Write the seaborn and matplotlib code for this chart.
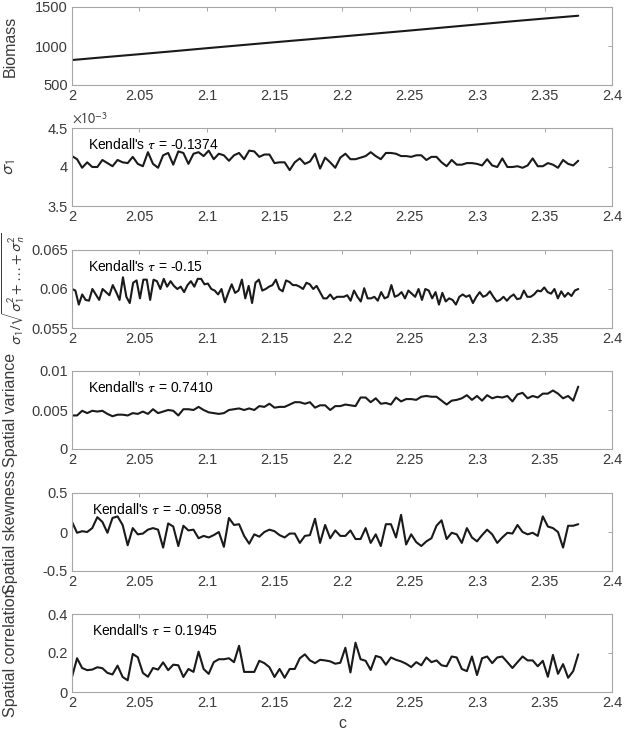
import numpy as np
import pandas as pd
import matplotlib
matplotlib.use('Agg')
import matplotlib.pyplot as plt
from matplotlib.ticker import FuncFormatter
import seaborn as sns

# Data (x runs from c = 2 to 2.375)
biomass = [820, 858, 895, 933, 972, 1010, 1048, 1085, 1122, 1160, 1198, 1237,
           1276, 1315, 1352, 1388]

# sigma_1 in units of 1e-3
sigma1_e3 = [4.14, 4.10, 3.99, 4.06, 4.00, 4.00, 4.09, 4.05, 4.01, 4.09,
             4.06, 4.05, 4.13, 4.04, 4.01, 4.19, 4.04, 3.99, 4.15, 4.18,
             4.03, 4.20, 4.18, 4.04, 4.17, 4.19, 4.14, 4.21, 4.10, 4.17,
             4.15, 4.08, 4.15, 4.18, 4.10, 4.21, 4.20, 4.13, 4.16, 4.16,
             4.05, 4.06, 4.06, 3.96, 4.06, 4.11, 4.04, 4.07, 4.17, 3.98,
             4.12, 4.06, 3.99, 4.12, 4.17, 4.10, 4.10, 4.12, 4.14, 4.19,
             4.14, 4.10, 4.18, 4.18, 4.17, 4.14, 4.14, 4.13, 4.15, 4.15,
             4.09, 4.13, 4.13, 4.06, 4.01, 4.09, 4.03, 4.03, 4.05, 4.05,
             4.04, 4.02, 4.10, 4.02, 4.00, 4.11, 4.00, 4.00, 4.01, 3.99,
             4.02, 4.11, 4.01, 4.01, 4.05, 4.03, 3.99, 4.09, 4.04, 4.02, 4.08]

sigma_ratio = [0.0600, 0.0598, 0.0580, 0.0593, 0.0586, 0.0585, 0.0600, 0.0593, 0.0586, 0.0600,
               0.0596, 0.0592, 0.0605, 0.0596, 0.0586, 0.0615, 0.0590, 0.0582, 0.0608, 0.0611,
               0.0588, 0.0612, 0.0612, 0.0586, 0.0612, 0.0610, 0.0600, 0.0613, 0.0603, 0.0610,
               0.0604, 0.0600, 0.0603, 0.0596, 0.0605, 0.0610, 0.0603, 0.0613, 0.0613, 0.0606,
               0.0607, 0.0600, 0.0598, 0.0593, 0.0600, 0.0583, 0.0595, 0.0606, 0.0595, 0.0598,
               0.0612, 0.0588, 0.0604, 0.0582, 0.0608, 0.0612, 0.0598, 0.0600, 0.0603, 0.0605,
               0.0612, 0.0600, 0.0597, 0.0611, 0.0609, 0.0605, 0.0605, 0.0603, 0.0600, 0.0608,
               0.0606, 0.0600, 0.0604, 0.0596, 0.0588, 0.0588, 0.0593, 0.0587, 0.0590, 0.0590,
               0.0590, 0.0592, 0.0585, 0.0598, 0.0590, 0.0584, 0.0601, 0.0588, 0.0588, 0.0590,
               0.0585, 0.0596, 0.0588, 0.0590, 0.0605, 0.0590, 0.0592, 0.0596, 0.0588, 0.0598,
               0.0594, 0.0590, 0.0600, 0.0586, 0.0600, 0.0598, 0.0588, 0.0596, 0.0580, 0.0595,
               0.0584, 0.0588, 0.0586, 0.0580, 0.0590, 0.0593, 0.0590, 0.0592, 0.0582, 0.0590,
               0.0596, 0.0590, 0.0592, 0.0597, 0.0590, 0.0584, 0.0586, 0.0590, 0.0585, 0.0590,
               0.0593, 0.0587, 0.0588, 0.0598, 0.0590, 0.0590, 0.0593, 0.0598, 0.0597, 0.0602,
               0.0596, 0.0594, 0.0600, 0.0588, 0.0597, 0.0590, 0.0595, 0.0591, 0.0598, 0.0600]

spatial_var = [0.0043, 0.0043, 0.0049, 0.0046, 0.0049, 0.0048, 0.0049, 0.0045, 0.0042, 0.0044,
               0.0044, 0.0043, 0.0046, 0.0045, 0.0048, 0.0045, 0.0051, 0.0046, 0.0048, 0.0050,
               0.0049, 0.0043, 0.0051, 0.0051, 0.0050, 0.0054, 0.0050, 0.0047, 0.0046, 0.0045,
               0.0046, 0.0050, 0.0051, 0.0052, 0.0050, 0.0052, 0.0050, 0.0055, 0.0054, 0.0058,
               0.0053, 0.0054, 0.0054, 0.0057, 0.0060, 0.0060, 0.0058, 0.0060, 0.0053, 0.0056,
               0.0056, 0.0050, 0.0055, 0.0055, 0.0057, 0.0056, 0.0055, 0.0066, 0.0066, 0.0060,
               0.0065, 0.0058, 0.0059, 0.0057, 0.0066, 0.0061, 0.0064, 0.0064, 0.0063, 0.0067,
               0.0068, 0.0067, 0.0067, 0.0062, 0.0057, 0.0062, 0.0063, 0.0065, 0.0069, 0.0063,
               0.0068, 0.0062, 0.0069, 0.0065, 0.0067, 0.0066, 0.0068, 0.0061, 0.0070, 0.0072,
               0.0065, 0.0068, 0.0066, 0.0071, 0.0071, 0.0075, 0.0071, 0.0065, 0.0068, 0.0062, 0.0080]

spatial_skew = [0.13, -0.01, 0.01, 0.00, 0.05, 0.19, 0.13, -0.01, 0.18, 0.20,
                0.09, -0.17, 0.05, -0.03, -0.02, 0.03, 0.05, 0.03, -0.20, 0.11,
                0.07, -0.18, 0.08, 0.02, 0.03, -0.08, -0.05, -0.07, -0.04, 0.00,
                -0.19, 0.18, 0.09, 0.10, -0.05, -0.15, -0.03, -0.06, 0.00, 0.03,
                0.01, -0.04, -0.07, -0.02, -0.02, -0.14, -0.05, -0.04, 0.17, -0.14,
                0.09, -0.08, 0.02, -0.05, -0.05, 0.02, -0.09, -0.09, 0.05, -0.14,
                -0.03, -0.18, 0.10, 0.10, -0.07, 0.22, -0.16, -0.03, -0.13, -0.18,
                -0.12, -0.08, 0.08, 0.15, -0.09, -0.01, -0.03, -0.14, 0.05, -0.07,
                -0.12, -0.04, 0.03, -0.03, -0.14, -0.07, -0.01, -0.02, 0.09, 0.00,
                -0.03, -0.01, -0.05, 0.20, 0.07, 0.05, 0.00, -0.20, 0.08, 0.08, 0.10]

spatial_corr = [0.077, 0.173, 0.123, 0.112, 0.115, 0.127, 0.122, 0.098, 0.090, 0.135,
                0.077, 0.060, 0.195, 0.178, 0.098, 0.078, 0.123, 0.115, 0.152, 0.112,
                0.140, 0.137, 0.077, 0.118, 0.103, 0.207, 0.118, 0.093, 0.153, 0.168,
                0.168, 0.173, 0.153, 0.237, 0.103, 0.103, 0.103, 0.160, 0.148, 0.127,
                0.077, 0.118, 0.073, 0.118, 0.118, 0.173, 0.193, 0.162, 0.148, 0.165,
                0.162, 0.157, 0.145, 0.150, 0.227, 0.100, 0.253, 0.168, 0.160, 0.113,
                0.185, 0.177, 0.140, 0.177, 0.165, 0.157, 0.145, 0.128, 0.153, 0.137,
                0.177, 0.153, 0.162, 0.137, 0.132, 0.182, 0.177, 0.118, 0.107, 0.182,
                0.087, 0.173, 0.182, 0.148, 0.177, 0.182, 0.153, 0.123, 0.153, 0.182,
                0.162, 0.162, 0.132, 0.160, 0.078, 0.190, 0.093, 0.143, 0.073, 0.107, 0.193]

kendall = [None, '-0.1374', '-0.15', '0.7410', '-0.0958', '0.1945']
ylabels = ['Biomass', r'$\sigma_1$',
           r'$\sigma_1/\sqrt{\sigma_1^2+\ldots+\sigma_n^2}$',
           'Spatial variance', 'Spatial skewness', 'Spatial correlation']
ylims = [(500, 1500), (3.5, 4.5), (0.055, 0.065), (0, 0.01), (-0.5, 0.5), (0, 0.4)]
yticks = [[500, 1000, 1500], [3.5, 4, 4.5], [0.055, 0.06, 0.065],
          [0, 0.005, 0.01], [-0.5, 0, 0.5], [0, 0.2, 0.4]]
xticks = [2, 2.05, 2.1, 2.15, 2.2, 2.25, 2.3, 2.35, 2.4]
series = [biomass, sigma1_e3, sigma_ratio, spatial_var, spatial_skew, spatial_corr]

sns.set_theme(style='white')
plt.rcParams['font.family'] = ['Liberation Sans', 'DejaVu Sans']
plt.rcParams['mathtext.fontset'] = 'stixsans'
plt.rcParams['axes.unicode_minus'] = False

fig = plt.figure(figsize=(6.25, 7.35), dpi=100)
tops = [7, 128, 250, 371, 493, 614]
fmt = FuncFormatter(lambda v, p: '{:g}'.format(round(v, 6)))
grey = '#a6a6a6'
txt = '#3a3a3a'

for i, vals in enumerate(series):
    ax = fig.add_axes([72 / 625, 1 - (tops[i] + 78) / 735, 540 / 625, 78 / 735])
    df = pd.DataFrame({'c': np.linspace(2, 2.375, len(vals)), 'v': vals})
    sns.lineplot(data=df, x='c', y='v', ax=ax, color='#1a1a1a', lw=1.5)
    ax.set_xlim(2, 2.4)
    ax.set_ylim(*ylims[i])
    ax.set_xticks(xticks)
    ax.set_yticks(yticks[i])
    ax.xaxis.set_major_formatter(fmt)
    ax.yaxis.set_major_formatter(fmt)
    ax.tick_params(direction='in', length=3, width=0.7, color=grey,
                   top=True, right=True, labelsize=10.5, labelcolor=txt, pad=3)
    for s in ax.spines.values():
        s.set_color(grey)
        s.set_linewidth(0.8)
    size = {1: 12.5, 2: 11}.get(i, 11.5)
    ax.set_ylabel(ylabels[i], fontsize=size, color=txt)
    ax.yaxis.set_label_coords(-0.083 if i == 2 else -0.1, 0.5)
    ax.set_xlabel('c' if i == 5 else '', fontsize=11.5, color=txt, labelpad=4)
    if kendall[i] is not None:
        xs = 0.03 if i < 4 else 0.037
        ax.text(xs, 0.79, r"Kendall's $\tau$ = " + kendall[i], transform=ax.transAxes,
                fontsize=10, va='center', ha='left', color='black')
    if i == 1:
        ax.text(0.0, 1.02, r'$\times10^{-3}$', transform=ax.transAxes,
                fontsize=10, va='bottom', ha='left', color=txt)

fig.savefig('out.png', dpi=100)
